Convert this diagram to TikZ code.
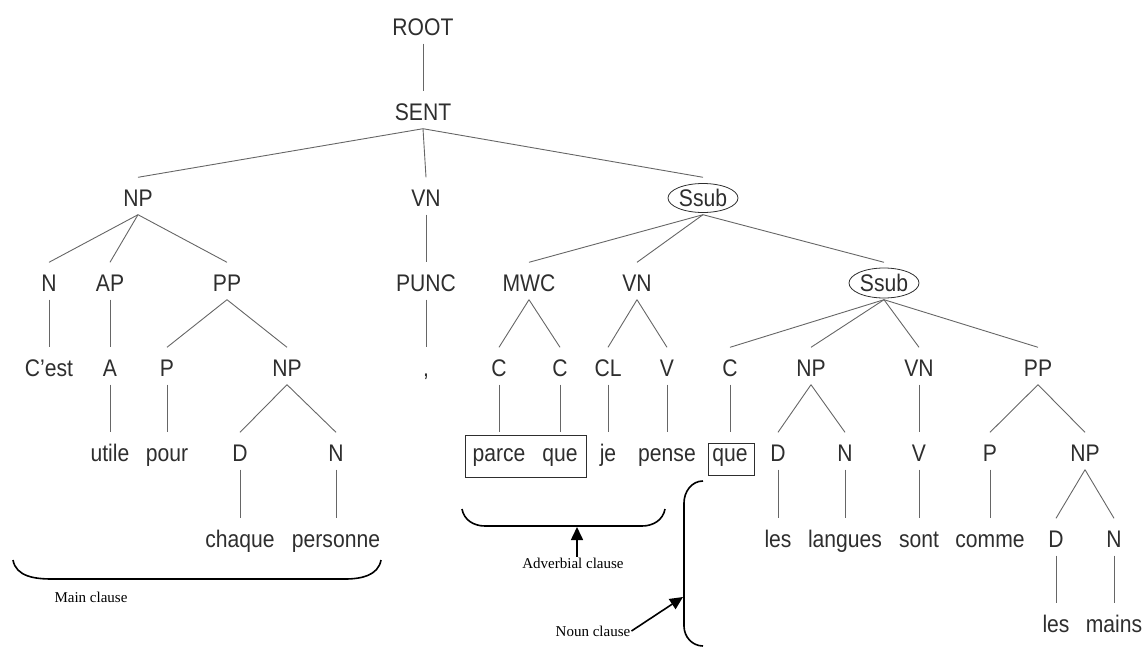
\documentclass[tikz,border=0pt]{standalone}
\usepackage{fontspec}
\setmainfont{Liberation Sans}[FakeStretch=0.88]
\newfontfamily\notefont{Liberation Serif}
\usetikzlibrary{arrows.meta}
\definecolor{wordgray}{HTML}{2E2E2E}
\definecolor{linegray}{HTML}{666666}

\begin{document}
\begin{tikzpicture}[x=1pt, y=-1pt,
  cat/.style={inner sep=0pt, text height=28.6pt, text depth=8.4pt,
    font=\fontsize{24}{26}\selectfont, text=wordgray},
  branch/.style={linegray, line width=0.9pt},
  brace/.style={black, line width=1.6pt},
  note/.style={font=\notefont\fontsize{15}{17}\selectfont, inner sep=1pt},
  pointer/.style={brace, -{Triangle[length=13pt, width=12pt]}}]
  \useasboundingbox (0,0) rectangle (1144,648);
  % levels 0-2
  \node[cat] (root) at (423,25) {ROOT};
  \node[cat] (sent) at (423,110) {SENT};
  \node[cat] (np1) at (138,196) {NP};
  \node[cat] (vn1) at (426,196) {VN};
  \node[cat] (ssub1) at (703,196) {Ssub};
  % level 3
  \node[cat] (n1) at (49,281) {N};
  \node[cat] (ap1) at (110,281) {AP};
  \node[cat] (pp1) at (227,281) {PP};
  \node[cat] (punc) at (426,281) {PUNC};
  \node[cat] (mwc) at (529,281) {MWC};
  \node[cat] (vn2) at (637,281) {VN};
  \node[cat] (ssub2) at (884,281) {Ssub};
  % level 4
  \node[cat] (cest) at (49,366) {C’est};
  \node[cat] (a1) at (110,366) {A};
  \node[cat] (p1) at (167,366) {P};
  \node[cat] (np2) at (287,366) {NP};
  \node[cat] (comma) at (426,366) {,};
  \node[cat] (c1) at (499,366) {C};
  \node[cat] (c2) at (560,366) {C};
  \node[cat] (cl) at (608,366) {CL};
  \node[cat] (v1) at (667,366) {V};
  \node[cat] (c3) at (730,366) {C};
  \node[cat] (np3) at (811,366) {NP};
  \node[cat] (vn3) at (919,366) {VN};
  \node[cat] (pp2) at (1038,366) {PP};
  % level 5
  \node[cat] (utile) at (110,451) {utile};
  \node[cat] (pour) at (167,451) {pour};
  \node[cat] (d1) at (240,451) {D};
  \node[cat] (n2) at (336,451) {N};
  \node[cat] (parce) at (499,451) {parce};
  \node[cat] (que1) at (560,451) {que};
  \node[cat] (je) at (608,451) {je};
  \node[cat] (pense) at (667,451) {pense};
  \node[cat] (que2) at (730,451) {que};
  \node[cat] (d2) at (778,451) {D};
  \node[cat] (n3) at (845,451) {N};
  \node[cat] (v2) at (919,451) {V};
  \node[cat] (p2) at (990,451) {P};
  \node[cat] (np4) at (1085,451) {NP};
  % levels 6-7
  \node[cat] (chaque) at (240,537) {chaque};
  \node[cat] (personne) at (336,537) {personne};
  \node[cat] (les1) at (778,537) {les};
  \node[cat] (langues) at (845,537) {langues};
  \node[cat] (sont) at (919,537) {sont};
  \node[cat] (comme) at (990,537) {comme};
  \node[cat] (d3) at (1056,537) {D};
  \node[cat] (n4) at (1114,537) {N};
  \node[cat] (les2) at (1056,622) {les};
  \node[cat] (mains) at (1114,622) {mains};
  % branches
  \foreach \a/\b in {root/sent, sent/np1, sent/vn1, sent/ssub1,
      np1/n1, np1/ap1, np1/pp1, vn1/punc, ssub1/mwc, ssub1/vn2, ssub1/ssub2,
      n1/cest, ap1/a1, pp1/p1, pp1/np2, punc/comma, mwc/c1, mwc/c2,
      vn2/cl, vn2/v1, ssub2/c3, ssub2/np3, ssub2/vn3, ssub2/pp2,
      a1/utile, p1/pour, np2/d1, np2/n2, c1/parce, c2/que1, cl/je, v1/pense,
      c3/que2, np3/d2, np3/n3, vn3/v2, pp2/p2, pp2/np4,
      d1/chaque, n2/personne, d2/les1, n3/langues, v2/sont, p2/comme,
      np4/d3, np4/n4, d3/les2, n4/mains}
    \draw[branch] (\a.south) -- (\b.north);
  % marked nodes
  \draw[wordgray, line width=0.8pt] (ssub1.center) ++(0,2) ellipse [x radius=35pt, y radius=14.5pt];
  \draw[wordgray, line width=0.8pt] (ssub2.center) ++(0,2) ellipse [x radius=35pt, y radius=15pt];
  \draw[wordgray, line width=0.9pt] (parce.center) ++(-34,-16) rectangle ++(121,42);
  \draw[wordgray, line width=0.9pt] (que2.center) ++(-22,-8) rectangle ++(46,32);
  % clause braces
  \draw[brace] (13,560) to[out=-80,in=180] (52,579) -- (345,579) to[out=0,in=-100] (381,560);
  \draw[brace] (462,509) to[out=-80,in=180] (485,526) -- (642,526) to[out=0,in=-100] (665,509);
  \draw[brace] (703,481) to[out=180,in=90] (684,503) -- (684,626) to[out=-90,in=180] (703,646);
  \node[note] (mainlab) at (91,597) {Main clause};
  \node[note] (advlab) at (573,563) {Adverbial clause};
  \node[note] (nounlab) at (593,631) {Noun clause};
  \coordinate (advtip) at (577,527);
  \coordinate (nountip) at (683,597);
  \draw[pointer] (advlab.north -| advtip) -- (advtip);
  \draw[pointer] (nounlab.east) -- (nountip);
\end{tikzpicture}
\end{document}
